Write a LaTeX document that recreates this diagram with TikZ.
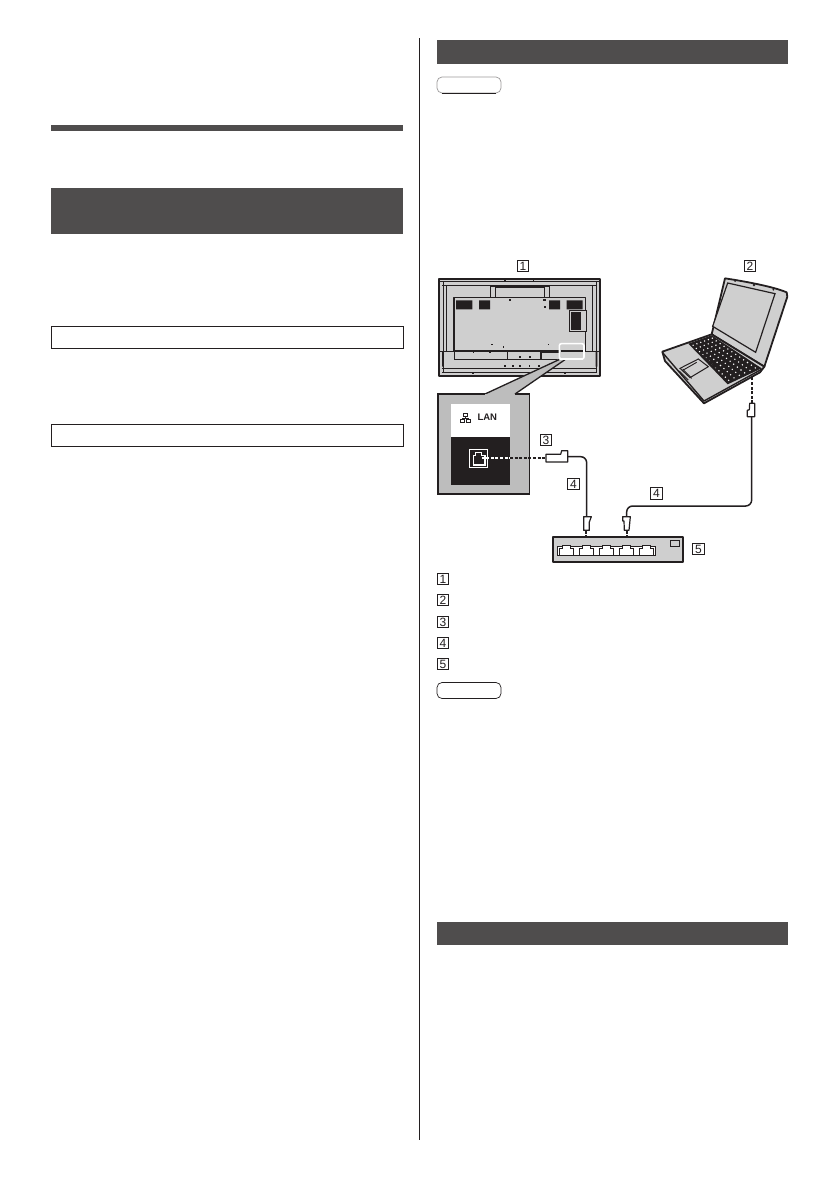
\documentclass[tikz,border=0pt]{standalone}
\usepackage{fontspec}
\setmainfont{Liberation Sans}
\definecolor{bar}{HTML}{4F4D4D}
\definecolor{ink}{HTML}{231F20}
\definecolor{dev}{HTML}{CFCFCF}
\definecolor{call}{HTML}{BDBDBD}
\tikzset{
  darkbar/.style={fill=bar,draw=none},
  framebox/.style={draw=ink,line width=1pt,fill=white},
  numbox/.style={draw=ink,line width=0.8pt,fill=white,inner sep=0pt,minimum width=11.4pt,minimum height=11.6pt,font=\fontsize{12}{12}\selectfont,text=ink},
  pill/.style={draw=ink,line width=0.7pt,rounded corners=5pt,fill=white},
  cable/.style={draw=ink,line width=1.5pt,rounded corners=6pt},
  plugshape/.style={draw=ink,line width=1.2pt,fill=white,line join=round},
  dashlink/.style={draw=ink,line width=1.8pt,dash pattern=on 3pt off 1.6pt},
  dev line/.style={draw=ink,line width=0.7pt},
  dev thick/.style={draw=ink,line width=1.8pt,line join=round},
  zone/.style={shift={(430,#1)},x=0.33333pt,y=-0.33333pt},
}
\begin{document}
\begin{tikzpicture}[x=1pt,y=-1pt]
\useasboundingbox (0,0) rectangle (839,1191);
\fill[white] (0,0) rectangle (839,1191);
% page furniture
\draw[ink,line width=1pt] (419,38) -- (419,1140);
\fill[darkbar] (51,125) rectangle (403,131);
\fill[darkbar] (51,188) rectangle (403,234);
\draw[framebox] (51.5,326.5) rectangle (403.5,348.5);
\draw[framebox] (51.5,424.5) rectangle (403.5,446.5);
\fill[darkbar] (437,40) rectangle (788,64);
\fill[darkbar] (437,922) rectangle (788,945);
\draw[pill,draw=ink!45] (437,77) rectangle (501,93);
\draw[ink,line width=0.8pt] (442,93) -- (496,93);
\draw[pill] (437,682.5) rectangle (501,698.5);
% list number boxes
\node[numbox] (l1) at (443,579) {1};
\node[numbox] (l2) at (443,600) {2};
\node[numbox] (l3) at (443,622) {3};
\node[numbox] (l4) at (443,643) {4};
\node[numbox] (l5) at (443,664) {5};
% MONITOR
\begin{scope}[zone=255]
\draw[dev thick,fill=dev,line width=2pt] (28,71) rectangle (510,363);
\draw[dev line,line width=1.1pt] (31,80) -- (507,80);
\draw[dev line,line width=.5pt] (36,92) -- (502,92);
\draw[dev line,line width=.5pt] (40,80) -- (40,352) (50,92) -- (50,288) (498,80) -- (498,352) (488,92) -- (488,288);
\draw[dev line,line width=.8pt] (36,340) -- (502,340) (36,352) -- (502,352);
\draw[dev line,fill=dev] (180,95) rectangle (358,128);
\draw[dev line,fill=dev] (195,98) rectangle (342,127);
\draw[dev thick,fill=dev,line width=1.2pt] (72,128) rectangle (466,288);
\fill[ink] (78,136) rectangle (127,163) (147,136) rectangle (180,163) (357,136) rectangle (390,163) (410,136) rectangle (458,163);
\draw[dev line,fill=dev] (418,165) rectangle (468,230);
\fill[ink] (422,172) rectangle (454,224);
\draw[dev line,line width=.8pt] (30,288) -- (508,288);
\draw[dev line,line width=.9pt,fill=dev] (72,288) rectangle (232,312);
\draw[dev line,line width=.9pt,fill=dev] (232,290) rectangle (331,312);
\draw[dev line,line width=.9pt,fill=dev] (333,292) rectangle (388,312);
\fill[ink] (36,290) rectangle (41,335) (497,290) rectangle (502,335);
\foreach \px/\py in {225/75,310/75,128/354,295/354,405/354,225/332,248/332,270/332,298/332,326/332,185/268,220/275,355/268,130/290,180/290,270/305,300/305,345/155,345/135,240/135,340/135}{
  \fill[ink] (\px-2.5,\py-2.5) rectangle (\px+2.5,\py+2.5);
}
% callout
\fill[call] (165,417) -- (387,312) -- (405,312) -- (255,417) -- cycle;
\draw[ink,line width=1.3pt] (165,417) -- (387,314) (255,417) -- (405,314);
\draw[white,line width=1.6pt,rounded corners=2pt,fill=dev] (388,266) rectangle (462,312);
\draw[ink,line width=1.2pt] (392,288) -- (458,288);
\draw[white,line width=1.6pt] (390,312) -- (460,312);
\end{scope}
% LAN CALLOUT PANEL
\begin{scope}[zone=385]
\fill[call] (24,27) rectangle (299,327);
\draw[ink,line width=1.5pt] (165,27) -- (24,27) -- (24,327) -- (299,327) -- (299,27) -- (255,27);
\fill[white] (63,57) rectangle (240,155);
\fill[ink] (63,155) rectangle (240,300);
\draw[white,line width=0.8pt] (118,193) rectangle (173,247);
\draw[white,line width=1.1pt] (130,240) -- (130,211) -- (137,211) -- (137,203) -- (154,203) -- (154,211) -- (165,211) -- (165,240) -- cycle;
% network icon
\draw[ink,line width=0.8pt] (100,84) rectangle (113,94) (92,103) rectangle (104,113) (110,103) rectangle (122,113);
\draw[ink,line width=0.8pt] (106,94) -- (106,99) (98,103) -- (98,99) -- (116,99) -- (116,103);
\node[font=\bfseries\fontsize{9.5}{9.5}\selectfont,text=ink,anchor=west,inner sep=0pt] (lan) at (142,98) {LAN};
% connector ends
\coordinate (portin) at (155,218);
\coordinate (panelr) at (240,218);
\coordinate (p3w) at (347,218);
\coordinate (p3e) at (413,215);
\coordinate (p4a) at (470,394);
\coordinate (p4as) at (467,437);
\coordinate (sw2) at (467,482);
\coordinate (p4b) at (590,394);
\coordinate (p4bs) at (590,437);
\coordinate (sw4) at (590,482);
\coordinate (p4t) at (965,95);
\coordinate (p4tt) at (965,55);
\coordinate (lapb) at (965,-30);
\draw[line width=1.8pt,white,dash pattern=on 3pt off 1.6pt] (portin) -- (panelr);
\draw[dashlink] (panelr) -- (p3w);
\draw[plugshape] (348,208) -- (392,208) -- (395,197) -- (413,197) -- (413,231) -- (348,231) -- cycle;
\draw[cable] (p3e) -- (470,215) -- (p4a);
\draw[plugshape] (461,395) -- (484,395) -- (478,411) -- (478,436) -- (461,436) -- cycle;
\draw[cable] (p4b) -- (590,363) -- (965,363) -- (p4t);
\draw[plugshape] (578,395) -- (601,395) -- (597,436) -- (583,436) -- (582,408) -- (578,408) -- cycle;
\draw[plugshape] (952,95) -- (974,95) -- (974,55) -- (959,55) -- (958,74) -- (952,76) -- cycle;
\draw[dashlink] (p4as) -- (sw2);
\draw[dashlink] (p4bs) -- (sw4);
\draw[dashlink] (p4tt) -- (lapb);
% switch
\draw[dev thick,fill=dev] (369,455) rectangle (759,531);
\draw[dev line,fill=white] (382,485) rectangle (677,510);
\foreach \c in {409,469,529,589,649}{
  \draw[dev line,fill=white,line width=0.9pt] (\c-22,510) -- (\c-22,490) -- (\c-12,490) -- (\c-12,482) -- (\c+12,482) -- (\c+12,490) -- (\c+22,490) -- (\c+22,510) -- cycle;
}
\draw[dev line,line width=0.9pt] (722,466) rectangle (749,484);
\end{scope}
% LAPTOP
\begin{scope}[zone=255]
\draw[dev thick,fill=dev] (885,70) .. controls (950,80) and (1030,95) .. (1070,112) -- (1072,125) -- (1003,335) -- (845,238) -- cycle;
\draw[dev line,line width=1.2pt,fill=dev] (893,84) -- (1035,116) -- (977,292) -- (848,214) -- cycle;
\fill[ink] (915,78) circle (3) (972,90) circle (4) (1030,104) circle (3);
\draw[dev thick,fill=dev] (697,290) -- (845,238) -- (1003,335) -- (990,352) -- (822,445) -- (705,318) -- cycle;
\draw[dev thick,line width=1.4pt] (697,292) -- (822,438) -- (1000,340);
\fill[ink] (775,266) -- (845,241) -- (995,340) -- (893,388) -- cycle;
\foreach \r in {0.1,0.26,0.42,0.58,0.74,0.9}{
  \foreach \s in {0.06,0.14,...,0.96}{
    \pgfmathsetmacro{\kx}{775+\s*(893-775)+\r*(845-775)+\r*\s*((995-845)-(893-775))}
    \pgfmathsetmacro{\ky}{266+\s*(388-266)+\r*(241-266)+\r*\s*((340-241)-(388-266))}
    \fill[white] (\kx,\ky) circle (2.4);
  }
}
\draw[dev line,fill=dev,line width=1pt] (750,340) -- (805,312) -- (835,335) -- (780,368) -- cycle;
\draw[dev line,line width=.9pt] (760,345) -- (800,322) (748,348) -- (775,375) (758,342) -- (785,370);
\draw[ink,line width=1.3pt] (815,300) -- (860,338);
\end{scope}
% number labels (diagram)
\node[numbox] (n1) at (523,266) {1};
\node[numbox] (n2) at (750,266) {2};
\node[numbox] (n3) at (546,440) {3};
\node[numbox] (n4a) at (573.5,484) {4};
\node[numbox] (n4b) at (656.5,493.5) {4};
\node[numbox] (n5) at (698.5,549) {5};
\end{tikzpicture}
\end{document}
